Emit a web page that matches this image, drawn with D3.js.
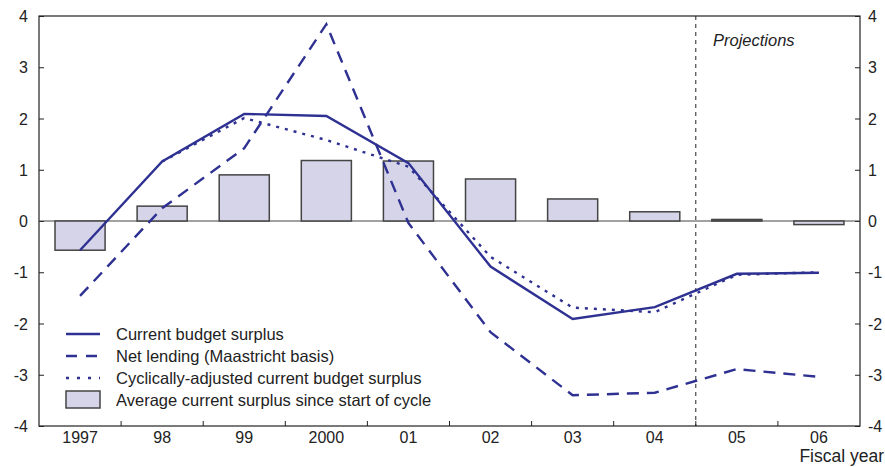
<!DOCTYPE html>
<html>
<head>
<meta charset="utf-8">
<script src="https://cdn.jsdelivr.net/npm/d3@7"></script>
<style>
  body { margin: 0; background: #fff; }
  svg { display: block; font-family: "Liberation Sans", Arial, sans-serif; }
</style>
</head>
<body>
<svg id="chart" width="885" height="467"></svg>
<script>
const years = ['1997', '98', '99', '2000', '01', '02', '03', '04', '05', '06'];
const avgSurplus = [-0.57, 0.29, 0.9, 1.18, 1.17, 0.82, 0.43, 0.18, 0.03, -0.07];
const currentBudget = [-0.57, 1.16, 2.09, 2.05, 1.13, -0.89, -1.91, -1.68, -1.03, -1.01];
const netLending = [-1.46, 0.25, 1.42, 3.84, -0.04, -2.17, -3.4, -3.35, -2.89, -3.04];
const cyclicalAdj = [null, 1.16, 2.01, 1.58, 1.06, -0.7, -1.69, -1.78, -1.05, -1.0];
const yTicks = [-4, -3, -2, -1, 0, 1, 2, 3, 4];
const legendItems = [
  { label: 'Current budget surplus', type: 'solid' },
  { label: 'Net lending (Maastricht basis)', type: 'dashed' },
  { label: 'Cyclically-adjusted current budget surplus', type: 'dotted' },
  { label: 'Average current surplus since start of cycle', type: 'bar' }
];

const lineColor = '#2e3192';
const barFill = '#d6d4e9';
const svg = d3.select('#chart');

const plotL = 39, plotR = 860, plotT = 16, plotB = 426;

const x = d3.scaleBand().domain(years).range([plotL, plotR]).padding(0);
const y = d3.scaleLinear().domain([-4, 4]).range([plotB, plotT]);
const cx = d => x(d) + x.bandwidth() / 2;

// frame
svg.append('rect')
  .attr('x', plotL).attr('y', plotT)
  .attr('width', plotR - plotL).attr('height', plotB - plotT)
  .attr('fill', 'none').attr('stroke', '#222').attr('stroke-width', 1.2);

// left axis
const yLeft = svg.append('g').attr('transform', `translate(${plotL},0)`)
  .call(d3.axisRight(y).tickValues(yTicks).tickSize(5).tickFormat(''));
yLeft.select('.domain').remove();
yLeft.selectAll('line').attr('stroke', '#222');

svg.append('g').selectAll('text').data(yTicks).enter().append('text')
  .attr('x', 28).attr('y', d => y(d) + 6)
  .attr('text-anchor', 'end')
  .attr('font-size', 16).attr('fill', '#222')
  .text(d => d);

// right axis
const yRight = svg.append('g').attr('transform', `translate(${plotR},0)`)
  .call(d3.axisLeft(y).tickValues(yTicks).tickSize(5).tickFormat(''));
yRight.select('.domain').remove();
yRight.selectAll('line').attr('stroke', '#222');

svg.append('g').selectAll('text').data(yTicks).enter().append('text')
  .attr('x', 868).attr('y', d => y(d) + 6)
  .attr('text-anchor', 'start')
  .attr('font-size', 16).attr('fill', '#222')
  .text(d => d);

// x ticks at band boundaries
const bounds = years.slice(1).map(d => x(d));
svg.append('g').selectAll('line').data(bounds).enter().append('line')
  .attr('x1', d => d).attr('x2', d => d)
  .attr('y1', plotB).attr('y2', plotB - 5)
  .attr('stroke', '#222');

svg.append('g').selectAll('text').data(years).enter().append('text')
  .attr('x', d => cx(d)).attr('y', 442.5)
  .attr('text-anchor', 'middle')
  .attr('font-size', 16).attr('fill', '#222')
  .text(d => d);

svg.append('text')
  .attr('x', 884).attr('y', 462)
  .attr('text-anchor', 'end')
  .attr('font-size', 17.5).attr('fill', '#222')
  .text('Fiscal year');

// zero line
svg.append('line')
  .attr('x1', plotL).attr('x2', plotR)
  .attr('y1', y(0)).attr('y2', y(0))
  .attr('stroke', '#444').attr('stroke-width', 1);

// bars
const bw = x.bandwidth() * 0.61;
svg.append('g').selectAll('rect').data(years).enter().append('rect')
  .attr('x', d => cx(d) - bw / 2)
  .attr('y', (d, i) => y(Math.max(0, avgSurplus[i])))
  .attr('width', bw)
  .attr('height', (d, i) => Math.abs(y(avgSurplus[i]) - y(0)))
  .attr('fill', barFill)
  .attr('stroke', '#444').attr('stroke-width', 1.5);

// projections divider
const projX = x('05');
svg.append('line')
  .attr('x1', projX).attr('x2', projX)
  .attr('y1', plotT).attr('y2', plotB)
  .attr('stroke', '#222').attr('stroke-width', 1)
  .attr('stroke-dasharray', '4,4');

svg.append('text')
  .attr('x', 713).attr('y', 46)
  .attr('font-size', 16.5).attr('font-style', 'italic').attr('fill', '#222')
  .text('Projections');

// lines
const line = d3.line()
  .defined(d => d.v !== null)
  .x(d => cx(d.k))
  .y(d => y(d.v));

function drawSeries(vals, dash) {
  svg.append('path')
    .datum(years.map((k, i) => ({ k, v: vals[i] })))
    .attr('d', line)
    .attr('fill', 'none')
    .attr('stroke', lineColor)
    .attr('stroke-width', 2.4)
    .attr('stroke-dasharray', dash);
}
drawSeries(cyclicalAdj, '3,6');
drawSeries(netLending, '12,8');
drawSeries(currentBudget, null);

// legend
const lg = svg.append('g');
const rowY = [334, 356, 378, 400];
legendItems.forEach((item, i) => {
  const yy = rowY[i];
  if (item.type === 'bar') {
    lg.append('rect')
      .attr('x', 66).attr('y', yy - 9).attr('width', 34).attr('height', 17)
      .attr('fill', barFill).attr('stroke', '#444').attr('stroke-width', 1.5);
  } else {
    lg.append('line')
      .attr('x1', 66).attr('x2', 100).attr('y1', yy).attr('y2', yy)
      .attr('stroke', lineColor).attr('stroke-width', 2.4)
      .attr('stroke-dasharray', item.type === 'dashed' ? '11,9' : item.type === 'dotted' ? '3,8' : null);
  }
  lg.append('text')
    .attr('x', 116).attr('y', yy + 5.5)
    .attr('font-size', 16.5).attr('fill', '#222')
    .text(item.label);
});
</script>
</body>
</html>
